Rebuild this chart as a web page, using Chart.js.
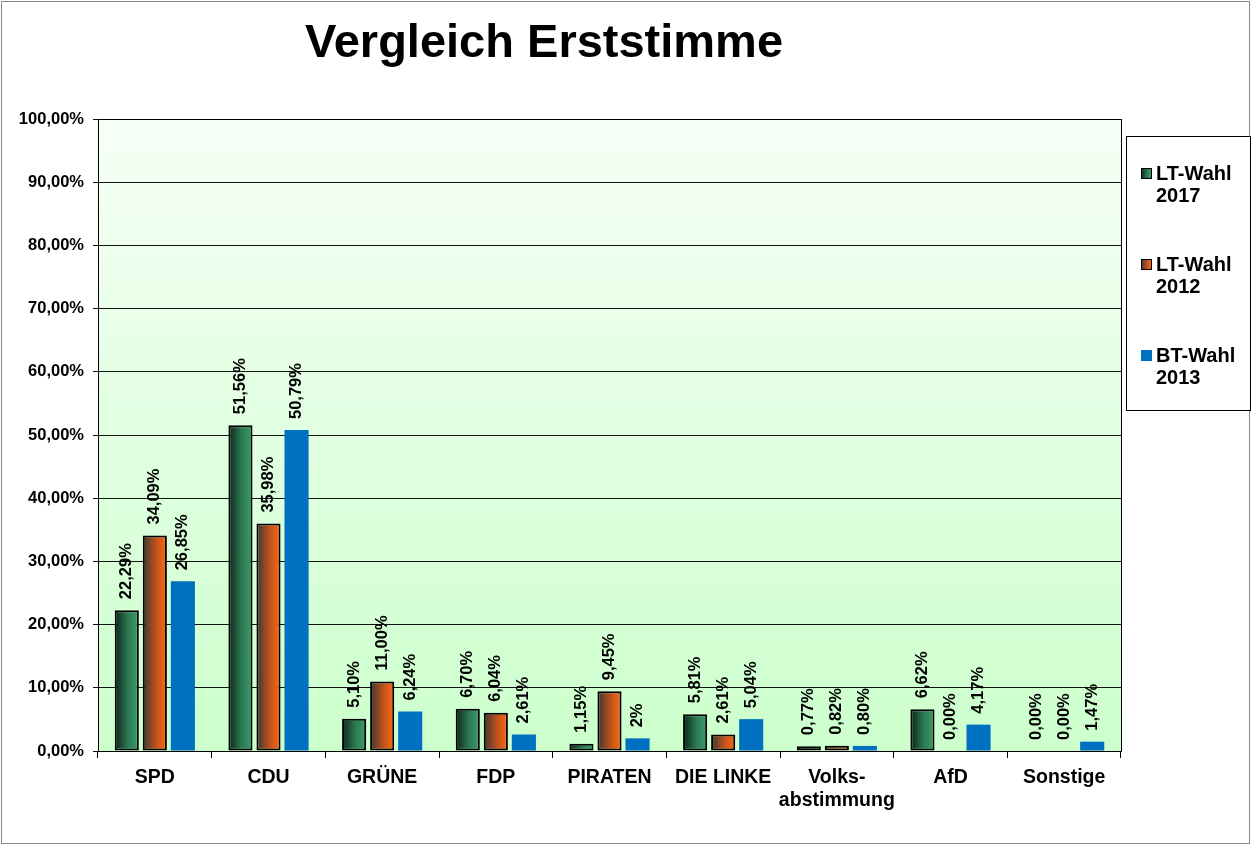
<!DOCTYPE html>
<html>
<head>
<meta charset="utf-8">
<script src="https://cdn.jsdelivr.net/npm/chart.js@4/dist/chart.umd.min.js"></script>
<style>
  html, body { margin: 0; padding: 0; background: #fff; }
  #wrap { width: 1252px; height: 846px; position: relative; }
</style>
</head>
<body>
<div id="wrap"><canvas id="chart" width="1252" height="846"></canvas></div>
<script>
// Parteien (x-Achse)
const categories = ['SPD', 'CDU', 'GRÜNE', 'FDP', 'PIRATEN', 'DIE LINKE', ['Volks-', 'abstimmung'], 'AfD', 'Sonstige'];

// Werte in Prozent
const lt2017 = [22.29, 51.56, 5.10, 6.70, 1.15, 5.81, 0.77, 6.62, 0.00];
const lt2012 = [34.09, 35.98, 11.00, 6.04, 9.45, 2.61, 0.82, 0.00, 0.00];
const bt2013 = [26.85, 50.79, 6.24, 2.61, 2.00, 5.04, 0.80, 4.17, 1.47];

const seriesNames = [['LT-Wahl', '2017'], ['LT-Wahl', '2012'], ['BT-Wahl', '2013']];

// Beschriftung wie im Original ("2%" bei PIRATEN / BT-Wahl)
const labelOverrides = { '2-4': '2%' };

const yTicks = [0, 10, 20, 30, 40, 50, 60, 70, 80, 90, 100];

const CAT_PCT = 0.74;
const BAR_PCT = 0.86;
const FONT = '"Liberation Sans", Arial, sans-serif';

const fmt = v => v.toFixed(2).replace('.', ',') + '%';

const addStops = function(g, dark, mid, light) {
    g.addColorStop(0, dark);
    g.addColorStop(0.55, mid);
    g.addColorStop(1, light);
    return g;
};

// horizontaler Verlauf pro Balken
const barFill = function(dark, mid, light) {
    return function(ctx) {
        const chart = ctx.chart;
        const xs = chart.scales.x;
        if (!xs || ctx.type !== 'data') return light;
        const center = xs.getPixelForValue(ctx.dataIndex);
        const slot = xs.width / categories.length * CAT_PCT / 3;
        if (!isFinite(center) || !isFinite(slot) || slot <= 0) return light;
        const w = slot * BAR_PCT;
        const cx = center + (ctx.datasetIndex - 1) * slot;
        return addStops(chart.ctx.createLinearGradient(cx - w / 2, 0, cx + w / 2, 0), dark, mid, light);
    };
};

const frame = {
    id: 'frame',
    beforeDraw(chart) {
        const c = chart.ctx, a = chart.chartArea;
        c.save();
        c.fillStyle = '#fff';
        c.fillRect(0, 0, chart.width, chart.height);
        const g = c.createLinearGradient(0, a.top, 0, a.bottom);
        g.addColorStop(0, '#f6fff6');
        g.addColorStop(1, '#ccffcc');
        c.fillStyle = g;
        c.fillRect(a.left, a.top, a.right - a.left, a.bottom - a.top);
        c.restore();
    },
    afterDraw(chart) {
        const c = chart.ctx, a = chart.chartArea;
        c.save();
        // Rahmen Plotfläche
        c.strokeStyle = '#000';
        c.lineWidth = 1;
        c.strokeRect(Math.round(a.left) + 0.5, Math.round(a.top) + 0.5, Math.round(a.right - a.left), Math.round(a.bottom - a.top));
        // äußerer Rahmen
        c.strokeStyle = '#8a8a8a';
        c.strokeRect(1.5, 1.5, 1248, 842);
        // Titel
        c.fillStyle = '#000';
        c.font = 'bold 47px ' + FONT;
        c.textAlign = 'center';
        c.textBaseline = 'alphabetic';
        c.fillText('Vergleich Erststimme', 544, 57);
        // Legende
        c.fillStyle = '#fff';
        c.fillRect(1126, 136, 124, 274);
        c.strokeStyle = '#000';
        c.strokeRect(1126.5, 136.5, 124, 274);
        const ys = [173, 264, 355];
        chart.data.datasets.forEach((ds, i) => {
            const y = ys[i];
            let fill = ds.legendColor;
            if (ds.legendDark) {
                fill = addStops(c.createLinearGradient(1141, 0, 1152, 0), ds.legendDark, ds.legendMid, ds.legendColor);
            }
            c.fillStyle = fill;
            c.fillRect(1141, y - 5, 11, 11);
            if (ds.legendDark) {
                c.strokeStyle = '#000';
                c.strokeRect(1141.5, y - 4.5, 10, 10);
            }
            c.fillStyle = '#000';
            c.font = 'bold 20px ' + FONT;
            c.textAlign = 'left';
            c.textBaseline = 'middle';
            c.fillText(seriesNames[i][0], 1156, y + 1);
            c.fillText(seriesNames[i][1], 1156, y + 23);
        });
        c.restore();
    }
};

const valueLabels = {
    id: 'valueLabels',
    afterDatasetsDraw(chart) {
        const c = chart.ctx;
        c.save();
        c.fillStyle = '#000';
        c.font = 'bold 16.5px ' + FONT;
        c.textAlign = 'left';
        c.textBaseline = 'middle';
        chart.data.datasets.forEach((ds, di) => {
            chart.getDatasetMeta(di).data.forEach((el, i) => {
                const txt = labelOverrides[di + '-' + i] || fmt(ds.data[i]);
                c.save();
                c.translate(el.x, el.y - 11);
                c.rotate(-Math.PI / 2);
                c.fillText(txt, 0, 0);
                c.restore();
            });
        });
        c.restore();
    }
};

const mkSet = function(label, data, dark, mid, light, border) {
    return {
        label: label,
        data: data,
        backgroundColor: dark ? barFill(dark, mid, light) : light,
        borderColor: '#000',
        borderWidth: ctx => (border && ctx.raw > 0) ? 2 : 0,
        borderSkipped: false,
        legendDark: dark,
        legendMid: mid,
        legendColor: light,
        categoryPercentage: CAT_PCT,
        barPercentage: BAR_PCT
    };
};

new Chart(document.getElementById('chart'), {
    type: 'bar',
    data: {
        labels: categories,
        datasets: [
            mkSet('LT-Wahl 2017', lt2017, '#0c2318', '#2c7a52', '#3a9d6b', true),
            mkSet('LT-Wahl 2012', lt2012, '#3a3634', '#c0521c', '#ff6a10', true),
            mkSet('BT-Wahl 2013', bt2013, null, null, '#0070c0', false)
        ]
    },
    options: {
        responsive: false,
        animation: false,
        devicePixelRatio: 1,
        layout: { padding: { top: 119, right: 131, left: 0, bottom: 0 } },
        plugins: {
            legend: { display: false },
            title: { display: false },
            tooltip: { enabled: false }
        },
        scales: {
            x: {
                afterFit: s => { s.height = 95; },
                grid: { drawOnChartArea: false, offset: true, color: '#000', tickLength: 7 },
                border: { color: '#000' },
                ticks: {
                    color: '#000',
                    padding: 8,
                    maxRotation: 0,
                    autoSkip: false,
                    font: { family: FONT, size: 19.5, weight: 'bold', lineHeight: 1.17 }
                }
            },
            y: {
                min: 0,
                max: 100,
                afterFit: s => { s.width = 98; },
                afterBuildTicks: s => { s.ticks = yTicks.map(v => ({ value: v })); },
                grid: { color: '#111', tickLength: 5 },
                border: { color: '#000' },
                ticks: {
                    color: '#000',
                    padding: 9,
                    callback: v => fmt(v),
                    font: { family: FONT, size: 16.5, weight: 'bold' }
                }
            }
        }
    },
    plugins: [frame, valueLabels]
});
</script>
</body>
</html>
